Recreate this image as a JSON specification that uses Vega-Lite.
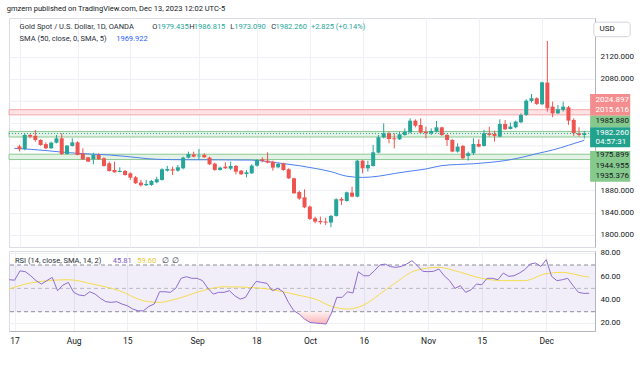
{
  "$schema": "https://vega.github.io/schema/vega-lite/v6.json",
  "background": "white",
  "padding": {"left": 6, "top": 5, "right": 4, "bottom": 4},
  "title": {"text": "gmzern published on TradingView.com, Dec 13, 2023 12:02 UTC-5", "anchor": "start", "fontSize": 7.5, "fontWeight": "normal", "color": "#131722", "font": "Roboto", "offset": 5},
  "config": {
    "font": "Roboto",
    "view": {"stroke": "#dadde4", "strokeWidth": 1},
    "axis": {"labelFont": "Roboto", "labelColor": "#131722", "labelFontSize": 8, "gridColor": "#eef0f5", "domainColor": "#b2b5be", "ticks": false, "labelOverlap": false}
  },
  "spacing": 0,
  "datasets": {
    "candles": [
      {"i":0,"o":1959,"h":1962,"l":1950,"c":1954},
      {"i":1,"o":1954,"h":1982,"l":1952,"c":1979.5},
      {"i":2,"o":1979.5,"h":1981,"l":1973.5,"c":1976.5},
      {"i":3,"o":1978,"h":1988.5,"l":1967.5,"c":1970.5},
      {"i":4,"o":1970.5,"h":1972,"l":1960,"c":1961.5},
      {"i":5,"o":1963,"h":1966,"l":1954,"c":1955.6},
      {"i":6,"o":1955.6,"h":1967.5,"l":1954.5,"c":1965.7},
      {"i":7,"o":1965.7,"h":1979.5,"l":1964.5,"c":1973.5},
      {"i":8,"o":1973.5,"h":1982.5,"l":1943.6,"c":1945.4},
      {"i":9,"o":1945.4,"h":1961.5,"l":1944.2,"c":1960.4},
      {"i":10,"o":1959.8,"h":1973.5,"l":1958.6,"c":1966.3},
      {"i":11,"o":1966.3,"h":1968.1,"l":1943,"c":1943.6},
      {"i":12,"o":1946.6,"h":1955.6,"l":1934.6,"c":1935.8},
      {"i":13,"o":1939.4,"h":1940,"l":1931,"c":1931.7},
      {"i":14,"o":1935.8,"h":1947.7,"l":1926.9,"c":1943.6},
      {"i":15,"o":1943.6,"h":1946.6,"l":1934.6,"c":1935.8},
      {"i":16,"o":1937.6,"h":1939.4,"l":1922.7,"c":1923.9},
      {"i":17,"o":1928.6,"h":1931.6,"l":1913.7,"c":1914.9},
      {"i":18,"o":1916.7,"h":1931.6,"l":1911.9,"c":1912.5},
      {"i":19,"o":1913,"h":1921.5,"l":1912.5,"c":1915},
      {"i":20,"o":1915,"h":1916.7,"l":1906.5,"c":1907.7},
      {"i":21,"o":1910.7,"h":1912.5,"l":1898.8,"c":1902.9},
      {"i":22,"o":1903.5,"h":1905.9,"l":1891.6,"c":1892.8},
      {"i":23,"o":1894,"h":1898.8,"l":1886.8,"c":1889.2},
      {"i":24,"o":1889.2,"h":1898.8,"l":1888,"c":1891.6},
      {"i":25,"o":1889.8,"h":1898.8,"l":1888,"c":1897},
      {"i":26,"o":1894.6,"h":1904.7,"l":1892.8,"c":1900},
      {"i":27,"o":1898.8,"h":1919.7,"l":1897.5,"c":1917.9},
      {"i":28,"o":1915.5,"h":1923.9,"l":1913.7,"c":1918.5},
      {"i":29,"o":1917.9,"h":1922.7,"l":1907.7,"c":1915.5},
      {"i":30,"o":1915.5,"h":1925.6,"l":1913.7,"c":1921.5},
      {"i":31,"o":1919.7,"h":1940.6,"l":1917.9,"c":1938.8},
      {"i":32,"o":1938.8,"h":1949.6,"l":1937.6,"c":1945.4},
      {"i":33,"o":1944.8,"h":1949.6,"l":1939.4,"c":1940.6},
      {"i":34,"o":1941.2,"h":1954.4,"l":1935.8,"c":1942.4},
      {"i":35,"o":1943.6,"h":1946.6,"l":1938.8,"c":1939.4},
      {"i":36,"o":1938.8,"h":1940.6,"l":1925.7,"c":1926.9},
      {"i":37,"o":1928,"h":1929.8,"l":1915.5,"c":1916.7},
      {"i":38,"o":1916.7,"h":1922.7,"l":1915.5,"c":1920.9},
      {"i":39,"o":1922.7,"h":1930.4,"l":1918.5,"c":1919.7},
      {"i":40,"o":1919.1,"h":1931.6,"l":1916.7,"c":1923.9},
      {"i":41,"o":1923.9,"h":1925.7,"l":1908.9,"c":1913.7},
      {"i":42,"o":1915.5,"h":1916.7,"l":1907.7,"c":1908.9},
      {"i":43,"o":1909.5,"h":1916.7,"l":1903.5,"c":1912.5},
      {"i":44,"o":1910.7,"h":1926.9,"l":1909.5,"c":1924.5},
      {"i":45,"o":1924.5,"h":1935.8,"l":1922.7,"c":1934.6},
      {"i":46,"o":1935.8,"h":1939.4,"l":1930.4,"c":1932.8},
      {"i":47,"o":1933.4,"h":1948.4,"l":1928.6,"c":1929.8},
      {"i":48,"o":1931.6,"h":1933.4,"l":1915.5,"c":1920.9},
      {"i":49,"o":1921.5,"h":1929.8,"l":1919.7,"c":1927.5},
      {"i":50,"o":1928.6,"h":1929.8,"l":1915.5,"c":1916.7},
      {"i":51,"o":1917.9,"h":1919.7,"l":1900.5,"c":1901.7},
      {"i":52,"o":1901.7,"h":1902.9,"l":1874,"c":1874.8},
      {"i":53,"o":1877.2,"h":1879.6,"l":1862.9,"c":1865.3},
      {"i":54,"o":1867.6,"h":1882,"l":1848,"c":1849.7},
      {"i":55,"o":1850.9,"h":1852.7,"l":1827,"c":1828.8},
      {"i":56,"o":1830,"h":1833,"l":1821,"c":1824},
      {"i":57,"o":1825.2,"h":1833,"l":1819.2,"c":1822.8},
      {"i":58,"o":1824,"h":1831.2,"l":1818,"c":1822.2},
      {"i":59,"o":1822.2,"h":1836,"l":1813.8,"c":1834.2},
      {"i":60,"o":1834.2,"h":1865.9,"l":1833,"c":1864.1},
      {"i":61,"o":1864.7,"h":1867.6,"l":1853.9,"c":1861.7},
      {"i":62,"o":1861,"h":1877.8,"l":1859.9,"c":1876.6},
      {"i":63,"o":1876,"h":1886.8,"l":1867.6,"c":1868.8},
      {"i":64,"o":1868.8,"h":1934.6,"l":1867.6,"c":1933.4},
      {"i":65,"o":1933.4,"h":1934.6,"l":1910.7,"c":1919.7},
      {"i":66,"o":1919.7,"h":1933.4,"l":1913.7,"c":1925.6},
      {"i":67,"o":1923.9,"h":1961.5,"l":1922.7,"c":1948.4},
      {"i":68,"o":1947.8,"h":1979.5,"l":1946.6,"c":1975.3},
      {"i":69,"o":1975.3,"h":2000.4,"l":1973.5,"c":1982.5},
      {"i":70,"o":1982.5,"h":1985.4,"l":1964.5,"c":1972.3},
      {"i":71,"o":1973.5,"h":1982.5,"l":1955.5,"c":1971.7},
      {"i":72,"o":1971.7,"h":1985.4,"l":1970.5,"c":1980.7},
      {"i":73,"o":1979.5,"h":1991.4,"l":1978.3,"c":1985.4},
      {"i":74,"o":1984.2,"h":2009.4,"l":1982.5,"c":2005.2},
      {"i":75,"o":2005.2,"h":2007.6,"l":1993.2,"c":1996.2},
      {"i":76,"o":1997.4,"h":2009.4,"l":1982.5,"c":1983.7},
      {"i":77,"o":1985.4,"h":1994.4,"l":1973.5,"c":1982.5},
      {"i":78,"o":1982.5,"h":1991.4,"l":1979.5,"c":1986.6},
      {"i":79,"o":1985.4,"h":2004.6,"l":1983.7,"c":1993.2},
      {"i":80,"o":1993.2,"h":1994.4,"l":1977.7,"c":1979.5},
      {"i":81,"o":1979.6,"h":1980.8,"l":1959.8,"c":1970.6},
      {"i":82,"o":1970.6,"h":1971.8,"l":1948.5,"c":1949.7},
      {"i":83,"o":1949.7,"h":1964.6,"l":1947.9,"c":1958.6},
      {"i":84,"o":1959.8,"h":1961.6,"l":1935.9,"c":1937.7},
      {"i":85,"o":1941.9,"h":1949.7,"l":1933.5,"c":1946.7},
      {"i":86,"o":1946.7,"h":1973.6,"l":1943.7,"c":1963.4},
      {"i":87,"o":1963.4,"h":1971.8,"l":1957.4,"c":1958.6},
      {"i":88,"o":1959.8,"h":1988.5,"l":1958.6,"c":1982.6},
      {"i":89,"o":1982.6,"h":1994.5,"l":1976.6,"c":1979.6},
      {"i":90,"o":1981.4,"h":1987.3,"l":1967.6,"c":1977.8},
      {"i":91,"o":1976.6,"h":2007.7,"l":1975.4,"c":1999.3},
      {"i":92,"o":1999.3,"h":2006.5,"l":1988.5,"c":1989.7},
      {"i":93,"o":1990.3,"h":2001.7,"l":1989.7,"c":1994.5},
      {"i":94,"o":1993.3,"h":2005.3,"l":1991.5,"c":2003.5},
      {"i":95,"o":2002.3,"h":2018.4,"l":2000.5,"c":2015.5},
      {"i":96,"o":2015.5,"h":2043.6,"l":2013.7,"c":2041.2},
      {"i":97,"o":2040.6,"h":2053.1,"l":2037.6,"c":2045.4},
      {"i":98,"o":2045.4,"h":2047.1,"l":2033.4,"c":2035.2},
      {"i":99,"o":2034.6,"h":2075.3,"l":2033.4,"c":2074},
      {"i":100,"o":2073.5,"h":2148.2,"l":2021.4,"c":2027.4},
      {"i":101,"o":2030.4,"h":2039.4,"l":2011.3,"c":2018.4},
      {"i":102,"o":2018.4,"h":2033.4,"l":2017.2,"c":2025.6},
      {"i":103,"o":2024.4,"h":2039.4,"l":2021.4,"c":2030.4},
      {"i":104,"o":2029.2,"h":2031.6,"l":1997.5,"c":2005.3},
      {"i":105,"o":2006.5,"h":2009.5,"l":1977.8,"c":1982.6},
      {"i":106,"o":1982.6,"h":1993.3,"l":1976.6,"c":1979.6},
      {"i":107,"o":1979.435,"h":1986.815,"l":1973.09,"c":1982.26}
    ],
    "sma": [
      {"i":-1,"v":1955.6},{"i":2,"v":1953.8},{"i":5,"v":1951.5},{"i":8,"v":1948.8},{"i":11,"v":1946.6},{"i":14,"v":1945},{"i":17,"v":1943.6},{"i":20,"v":1941.2},{"i":23,"v":1938.2},{"i":26,"v":1935.8},{"i":29,"v":1935.2},{"i":32,"v":1935},{"i":35,"v":1935},{"i":38,"v":1934.8},{"i":41,"v":1934.6},{"i":44,"v":1934.4},{"i":47,"v":1931.8},{"i":50,"v":1928},{"i":53,"v":1924.4},{"i":56,"v":1919.5},{"i":59,"v":1913.7},{"i":62,"v":1905.5},{"i":65,"v":1903.3},{"i":68,"v":1905.5},{"i":71,"v":1910.3},{"i":74,"v":1914.5},{"i":77,"v":1918.5},{"i":80,"v":1924.5},{"i":83,"v":1926.5},{"i":86,"v":1927.8},{"i":89,"v":1930.2},{"i":92,"v":1933.5},{"i":95,"v":1939},{"i":98,"v":1946},{"i":101,"v":1952.5},{"i":104,"v":1961},{"i":107,"v":1969.922}
    ],
    "rsi": [
      {"i":-1,"r":57.4},{"i":0,"r":57},{"i":1,"r":65},{"i":2,"r":64.3},{"i":3,"r":60.8},{"i":4,"r":56.6},{"i":5,"r":53.7},{"i":6,"r":56.6},{"i":7,"r":59.4},{"i":8,"r":48},{"i":9,"r":52.8},{"i":10,"r":55.1},{"i":11,"r":46.6},{"i":12,"r":44.3},{"i":13,"r":43.7},{"i":14,"r":47.1},{"i":15,"r":45.1},{"i":16,"r":41.4},{"i":17,"r":38.6},{"i":18,"r":38},{"i":19,"r":38.6},{"i":20,"r":36.6},{"i":21,"r":35.1},{"i":22,"r":32.3},{"i":23,"r":30.8},{"i":24,"r":30.8},{"i":25,"r":34.6},{"i":26,"r":36.6},{"i":27,"r":47.1},{"i":28,"r":47.1},{"i":29,"r":46.6},{"i":30,"r":50},{"i":31,"r":58.6},{"i":32,"r":60},{"i":33,"r":58.6},{"i":34,"r":58.6},{"i":35,"r":56.6},{"i":36,"r":50},{"i":37,"r":45.1},{"i":38,"r":46.6},{"i":39,"r":46.6},{"i":40,"r":48},{"i":41,"r":43.7},{"i":42,"r":40.8},{"i":43,"r":42.3},{"i":44,"r":50},{"i":45,"r":56},{"i":46,"r":55.1},{"i":47,"r":54.3},{"i":48,"r":48},{"i":49,"r":50},{"i":50,"r":47.1},{"i":51,"r":38},{"i":52,"r":30.8},{"i":53,"r":28},{"i":54,"r":23.7},{"i":55,"r":20.8},{"i":56,"r":20.3},{"i":57,"r":20},{"i":58,"r":19.4},{"i":59,"r":28.8},{"i":60,"r":42.3},{"i":61,"r":42.3},{"i":62,"r":47.1},{"i":63,"r":46},{"i":64,"r":64.3},{"i":65,"r":60.8},{"i":66,"r":60.8},{"i":67,"r":65.1},{"i":68,"r":70},{"i":69,"r":70.8},{"i":70,"r":68.6},{"i":71,"r":68},{"i":72,"r":68.8},{"i":73,"r":70.8},{"i":74,"r":73.7},{"i":75,"r":69.4},{"i":76,"r":64.6},{"i":77,"r":64.3},{"i":78,"r":64.6},{"i":79,"r":66.6},{"i":80,"r":60.8},{"i":81,"r":56.6},{"i":82,"r":50},{"i":83,"r":52.3},{"i":84,"r":46.6},{"i":85,"r":48.8},{"i":86,"r":53.7},{"i":87,"r":53.1},{"i":88,"r":58.6},{"i":89,"r":58.6},{"i":90,"r":57.4},{"i":91,"r":63.1},{"i":92,"r":60.3},{"i":93,"r":60.8},{"i":94,"r":63.1},{"i":95,"r":66},{"i":96,"r":70.8},{"i":97,"r":71.7},{"i":98,"r":68.8},{"i":99,"r":74.6},{"i":100,"r":60.3},{"i":101,"r":56.6},{"i":102,"r":57.4},{"i":103,"r":58.6},{"i":104,"r":52.3},{"i":105,"r":46.6},{"i":106,"r":45.7},{"i":107,"r":45.81}
    ],
    "rsima": [
      {"i":-1,"m":49.4},{"i":2,"m":53.7},{"i":5,"m":56},{"i":10,"m":57.4},{"i":14.5,"m":53.7},{"i":19.5,"m":48},{"i":24,"m":39.4},{"i":27,"m":38},{"i":30,"m":40.8},{"i":35,"m":48},{"i":39,"m":51.4},{"i":45.5,"m":50.3},{"i":50,"m":47.1},{"i":53,"m":44},{"i":56,"m":40.8},{"i":59,"m":34.6},{"i":62,"m":32.3},{"i":65,"m":35.7},{"i":68,"m":45.1},{"i":71.5,"m":56.6},{"i":74.5,"m":65.1},{"i":79,"m":68},{"i":82,"m":65.1},{"i":87,"m":58.6},{"i":91,"m":56.6},{"i":95,"m":56.6},{"i":98.7,"m":62.3},{"i":102,"m":63.7},{"i":106,"m":60.3},{"i":107,"m":59.6}
    ],
    "oversold": [
      {"i":52.6,"r":30},{"i":53,"r":28},{"i":54,"r":23.7},{"i":55,"r":20.8},{"i":56,"r":20.3},{"i":57,"r":20},{"i":58,"r":19.4},{"i":59,"r":28.8},{"i":59.1,"r":30}
    ],
    "zones": [
      {"lo":2015.616,"hi":2024.897,"k":"r"},
      {"lo":1975.899,"hi":1985.88,"k":"g"},
      {"lo":1935.376,"hi":1944.955,"k":"g"}
    ],
    "boxes": [
      {"lo":2014.1,"hi":2053.0,"k":"r"},
      {"lo":1993.3,"hi":2014.1,"k":"g"},
      {"lo":1957.4,"hi":1993.3,"k":"t"},
      {"lo":1895.6,"hi":1950.7,"k":"g"}
    ],
    "tags": [
      {"t":"2024.897","p":2042.8,"k":"r"},
      {"t":"2015.616","p":2025.2,"k":"r"},
      {"t":"1985.880","p":2003.7,"k":"g"},
      {"t":"1982.260","p":1983.4,"k":"t"},
      {"t":"04:57:31","p":1966,"k":"t"},
      {"t":"1975.899","p":1942.7,"k":"g"},
      {"t":"1944.955","p":1923.8,"k":"g"},
      {"t":"1935.376","p":1905.3,"k":"g"}
    ],
    "legend": [
      {"t":"Gold Spot / U.S. Dollar, 1D, OANDA","k":"lab","i":0.02,"p":2173.9},
      {"t":"O","k":"lab","i":25.16,"p":2173.9},
      {"t":"1979.435","k":"val","i":26.09,"p":2173.9},
      {"t":"H","k":"lab","i":32.16,"p":2173.9},
      {"t":"1986.815","k":"val","i":33.03,"p":2173.9},
      {"t":"L","k":"lab","i":39.92,"p":2173.9},
      {"t":"1973.090","k":"val","i":40.67,"p":2173.9},
      {"t":"C","k":"lab","i":47.69,"p":2173.9},
      {"t":"1982.260","k":"val","i":48.49,"p":2173.9},
      {"t":"+2.825 (+0.14%)","k":"val","i":55.2,"p":2173.9},
      {"t":"SMA (50, close, 0, SMA, 5)","k":"lab","i":0.02,"p":2151.8},
      {"t":"1969.922","k":"sma","i":18.32,"p":2151.8}
    ],
    "rsilegend": [
      {"t":"RSI (14, close, SMA, 14, 2)","k":"lab","i":0.07,"r":73.2},
      {"t":"45.81","k":"rsi","i":18.3,"r":73.2},
      {"t":"59.60","k":"ma","i":22.85,"r":73.2},
      {"t":"∅","k":"lab","i":27.5,"r":73.2},
      {"t":"∅","k":"lab","i":29.4,"r":73.2}
    ],
    "pricegrid": [{"g":1920},{"g":1960},{"g":2000},{"g":2040}],
    "rsiticks": [{"v":20},{"v":40},{"v":60},{"v":80}]
  },
  "vconcat": [
    {
      "width": 586,
      "height": 229,
      "layer": [
        {
          "data": {"name": "sma"},
          "mark": {"type": "line", "color": "#4e7ff0", "strokeWidth": 1, "interpolate": "monotone", "opacity": 0},
          "encoding": {
            "x": {"field": "i", "type": "quantitative", "title": null, "scale": {"domain": [-1.043, 108.08], "nice": false, "zero": false},
                  "axis": {"values": [0, 11, 21, 34, 45, 55, 65, 77, 87, 99], "labels": false, "ticks": false, "domain": false, "grid": true, "title": null}},
            "y": {"field": "v", "type": "quantitative", "title": null, "scale": {"domain": [1778.4, 2189.5], "nice": false, "zero": false},
                  "axis": {"orient": "right", "values": [1800, 1840, 1880, 2080, 2120], "format": ".3f", "grid": true, "domain": true, "labelPadding": 5, "title": null, "labelOverlap": false, "zindex": 0}}
          }
        },
        {
          "data": {"name": "pricegrid"},
          "mark": {"type": "rule", "color": "#eef0f5", "strokeWidth": 1},
          "encoding": {"y": {"field": "g", "type": "quantitative", "title": null}}
        },
        {
          "data": {"name": "zones"},
          "mark": {"type": "rect", "strokeWidth": 1},
          "encoding": {
            "y": {"field": "lo", "type": "quantitative", "title": null},
            "y2": {"field": "hi"},
            "fill": {"condition": {"test": "datum.k == 'r'", "value": "#fde3e4"}, "value": "#e5f3e6"},
            "stroke": {"condition": {"test": "datum.k == 'r'", "value": "#f5a6aa"}, "value": "#8cc893"}
          }
        },
        {
          "data": {"name": "sma"},
          "mark": {"type": "line", "color": "#4e7ff0", "strokeWidth": 1, "interpolate": "monotone"},
          "encoding": {
            "x": {"field": "i", "type": "quantitative", "title": null},
            "y": {"field": "v", "type": "quantitative", "title": null}
          }
        },
        {
          "data": {"name": "candles"},
          "mark": {"type": "rule", "strokeWidth": 1},
          "encoding": {
            "x": {"field": "i", "type": "quantitative", "title": null},
            "y": {"field": "l", "type": "quantitative", "title": null},
            "y2": {"field": "h"},
            "color": {"condition": {"test": "datum.c >= datum.o", "value": "#26a69a"}, "value": "#ef5350"}
          }
        },
        {
          "data": {"name": "candles"},
          "mark": {"type": "bar", "size": 4},
          "encoding": {
            "x": {"field": "i", "type": "quantitative", "title": null},
            "y": {"field": "o", "type": "quantitative", "title": null},
            "y2": {"field": "c"},
            "color": {"condition": {"test": "datum.c >= datum.o", "value": "#26a69a"}, "value": "#ef5350"}
          }
        },
        {
          "data": {"values": [{"price": 1982.26}]},
          "mark": {"type": "rule", "color": "#26a69a", "strokeDash": [1, 2], "strokeWidth": 1},
          "encoding": {"y": {"field": "price", "type": "quantitative", "title": null}}
        },
        {
          "data": {"name": "legend"},
          "mark": {"type": "text", "align": "left", "baseline": "middle", "fontSize": 7.5},
          "encoding": {
            "x": {"field": "i", "type": "quantitative", "title": null},
            "y": {"field": "p", "type": "quantitative", "title": null},
            "text": {"field": "t"},
            "color": {"condition": [{"test": "datum.k == 'val'", "value": "#26a69a"}, {"test": "datum.k == 'sma'", "value": "#2962ff"}], "value": "#2a2e39"}
          }
        },
        {
          "data": {"name": "boxes"},
          "mark": {"type": "rect"},
          "encoding": {
            "x": {"datum": 108.1, "type": "quantitative"},
            "x2": {"datum": 115.7},
            "y": {"field": "lo", "type": "quantitative", "title": null},
            "y2": {"field": "hi"},
            "color": {"condition": [{"test": "datum.k == 'r'", "value": "#f48e8e"}, {"test": "datum.k == 't'", "value": "#22a28c"}], "value": "#86c98c"}
          }
        },
        {
          "data": {"name": "tags"},
          "mark": {"type": "text", "align": "left", "baseline": "middle", "fontSize": 8},
          "encoding": {
            "x": {"datum": 109.1, "type": "quantitative"},
            "y": {"field": "p", "type": "quantitative", "title": null},
            "text": {"field": "t"},
            "color": {"condition": {"test": "datum.k == 'g'", "value": "#131722"}, "value": "#ffffff"}
          }
        },
        {
          "data": {"values": [{"lab": "USD"}]},
          "mark": {"type": "rect", "fill": "#ffffff", "stroke": "#d1d4dc", "strokeWidth": 1, "cornerRadius": 3},
          "encoding": {
            "x": {"datum": 108.8, "type": "quantitative"},
            "x2": {"datum": 115.7},
            "y": {"datum": 2155.9, "type": "quantitative"},
            "y2": {"datum": 2182}
          }
        },
        {
          "data": {"values": [{"lab": "USD"}]},
          "mark": {"type": "text", "align": "left", "baseline": "middle", "fontSize": 8, "color": "#131722"},
          "encoding": {
            "x": {"datum": 109.9, "type": "quantitative"},
            "y": {"datum": 2169, "type": "quantitative"},
            "text": {"field": "lab"}
          }
        }
      ]
    },
    {
      "width": 586,
      "height": 80,
      "layer": [
        {
          "data": {"name": "rsi"},
          "mark": {"type": "line", "opacity": 0},
          "encoding": {
            "x": {"field": "i", "type": "quantitative", "title": null, "scale": {"domain": [-1.043, 108.08], "nice": false, "zero": false},
                  "axis": {"values": [0, 11, 21, 34, 45, 55, 65, 77, 87, 99],
                           "labelExpr": "datum.value==0?'17':datum.value==11?'Aug':datum.value==21?'15':datum.value==34?'Sep':datum.value==45?'18':datum.value==55?'Oct':datum.value==65?'16':datum.value==77?'Nov':datum.value==87?'15':'Dec'",
                           "labelFlush": false, "labelOverlap": false, "labelFontSize": 8.5, "labelPadding": 5, "grid": true, "domain": true,
                           "title": "TradingView", "titleAnchor": "start", "titleAlign": "left", "titleX": 16, "titleFontSize": 9, "titleFontWeight": 600, "titleColor": "#131722", "titlePadding": 9}},
            "y": {"field": "r", "type": "quantitative", "title": null, "scale": {"domain": [13.5, 82], "nice": false, "zero": false},
                  "axis": {"orient": "right", "values": [20, 40, 60, 80], "labels": false, "grid": true, "domain": true, "title": null}}
          }
        },
        {
          "data": {"values": [{}]},
          "mark": {"type": "rect", "color": "#7e57c2", "opacity": 0.1},
          "encoding": {"y": {"datum": 30, "type": "quantitative"}, "y2": {"datum": 70}}
        },
        {
          "data": {"values": [{"lvl": 70}, {"lvl": 30}]},
          "mark": {"type": "rule", "color": "#8a8d96", "strokeDash": [4, 3], "strokeWidth": 1},
          "encoding": {"y": {"field": "lvl", "type": "quantitative", "title": null}}
        },
        {
          "data": {"values": [{"lvl": 50}]},
          "mark": {"type": "rule", "color": "#b7b9c0", "strokeDash": [4, 3], "strokeWidth": 1},
          "encoding": {"y": {"field": "lvl", "type": "quantitative", "title": null}}
        },
        {
          "data": {"name": "oversold"},
          "mark": {"type": "area", "interpolate": "linear",
                   "color": {"gradient": "linear", "x1": 0, "y1": 0, "x2": 0, "y2": 1,
                             "stops": [{"offset": 0, "color": "#fff0f0"}, {"offset": 1, "color": "#f9b4b8"}]}},
          "encoding": {
            "x": {"field": "i", "type": "quantitative", "title": null},
            "y": {"field": "r", "type": "quantitative", "title": null},
            "y2": {"datum": 30}
          }
        },
        {
          "data": {"name": "rsima"},
          "mark": {"type": "line", "color": "#f5dc4f", "strokeWidth": 1, "interpolate": "monotone"},
          "encoding": {
            "x": {"field": "i", "type": "quantitative", "title": null},
            "y": {"field": "m", "type": "quantitative", "title": null}
          }
        },
        {
          "data": {"name": "rsi"},
          "mark": {"type": "line", "color": "#8e6cd0", "strokeWidth": 1},
          "encoding": {
            "x": {"field": "i", "type": "quantitative", "title": null},
            "y": {"field": "r", "type": "quantitative", "title": null}
          }
        },
        {
          "data": {"name": "rsilegend"},
          "mark": {"type": "text", "align": "left", "baseline": "middle", "fontSize": 7.5},
          "encoding": {
            "x": {"field": "i", "type": "quantitative", "title": null},
            "y": {"field": "r", "type": "quantitative", "title": null},
            "text": {"field": "t"},
            "color": {"condition": [{"test": "datum.k == 'rsi'", "value": "#7e57c2"}, {"test": "datum.k == 'ma'", "value": "#e8c832"}], "value": "#2a2e39"}
          }
        },
        {
          "data": {"name": "rsiticks"},
          "mark": {"type": "text", "align": "left", "baseline": "middle", "fontSize": 8, "color": "#131722"},
          "encoding": {
            "x": {"datum": 109.1, "type": "quantitative"},
            "y": {"field": "v", "type": "quantitative", "title": null},
            "text": {"field": "v", "type": "quantitative", "format": ".2f"}
          }
        }
      ]
    }
  ]
}
